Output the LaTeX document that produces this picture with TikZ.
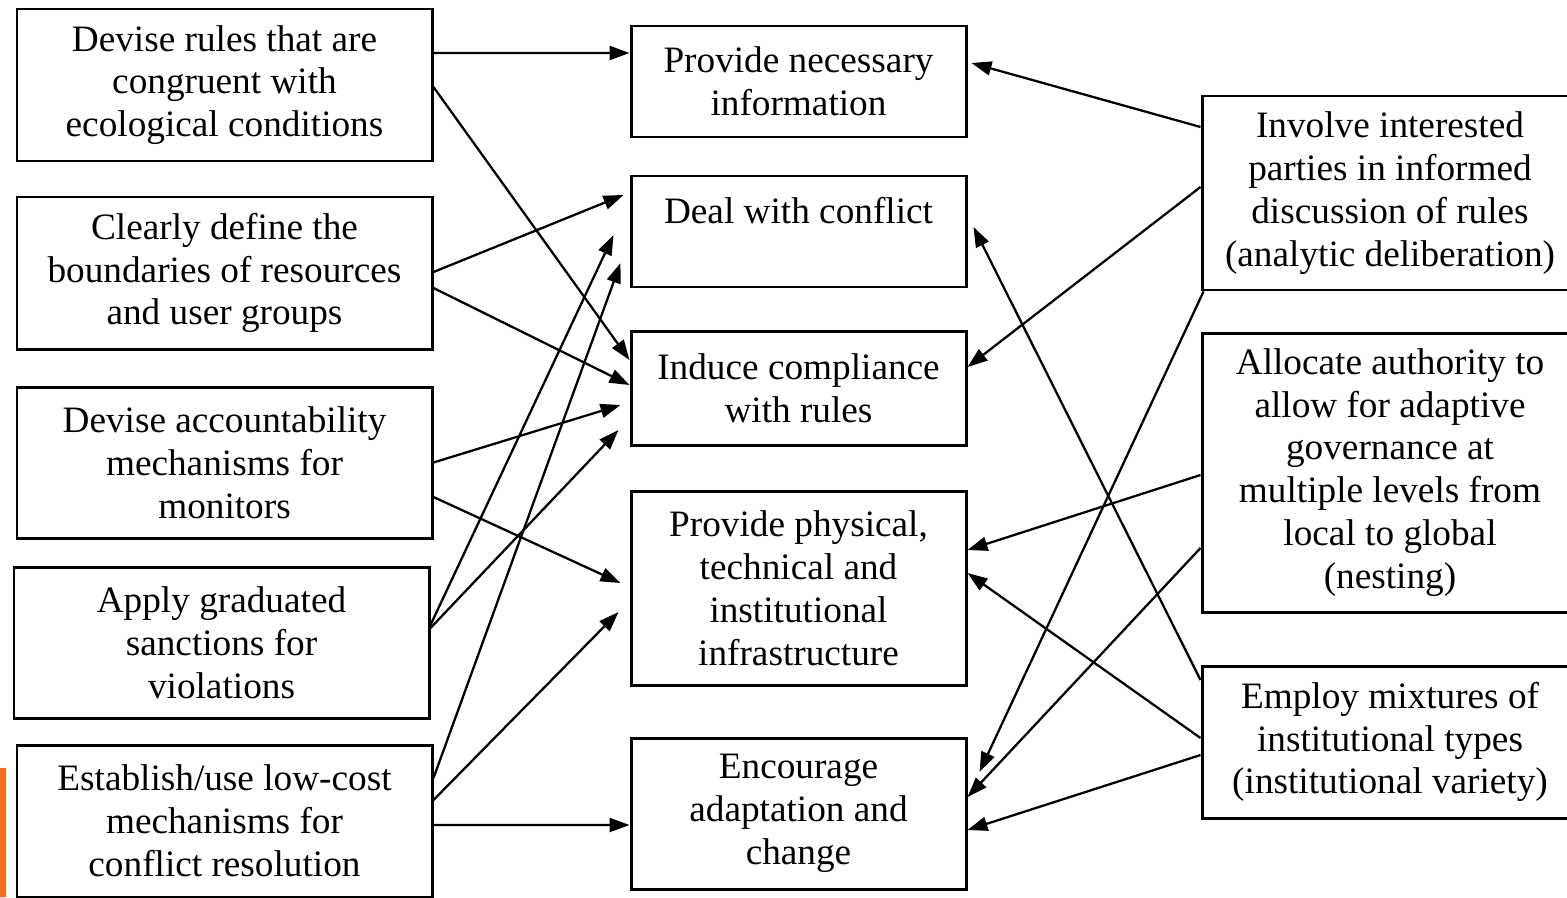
\documentclass[tikz,border=0pt]{standalone}
\usepackage{fontspec}
\setmainfont{Liberation Serif}
\usetikzlibrary{arrows.meta}
\definecolor{barorange}{RGB}{244,110,32}
\begin{document}
\begin{tikzpicture}[x=0.1mm,y=-0.1mm,
    box/.style={draw,line width=0.85pt,inner sep=0pt,align=center,
      font=\fontsize{10.6}{12.2}\selectfont},
    link/.style={line width=0.65pt,-{Triangle[length=2mm,width=1.4mm]}}]
    \useasboundingbox (0,0) rectangle (1567,897);
    \fill[barorange] (0,768) rectangle (6,897);

    % left column
    \node[box,minimum width=41.5mm,minimum height=15.2mm] (rules) at (224.5,85)
      {Devise rules that are\\congruent with\\ecological conditions};
    \node[box,minimum width=41.5mm,minimum height=15.2mm] (bounds) at (224.5,273)
      {Clearly define the\\boundaries of resources\\and user groups};
    \node[box,minimum width=41.5mm,minimum height=15.1mm] (account) at (224.5,462.5)
      {Devise accountability\\mechanisms for\\monitors};
    \node[box,minimum width=41.5mm,minimum height=15.1mm] (sanction) at (221.5,642.5)
      {Apply graduated\\sanctions for\\violations};
    \node[box,minimum width=41.5mm,minimum height=15.2mm] (lowcost) at (224.5,821)
      {Establish/use low-cost\\mechanisms for\\conflict resolution};

    % middle column
    \node[box,minimum width=33.5mm,minimum height=11.1mm] (info) at (798.5,81.5)
      {Provide necessary\\information};
    \node[box,minimum width=33.5mm,minimum height=11.1mm] (conflict) at (798.5,231.5)
      {Deal with conflict\\\mbox{}};
    \node[box,minimum width=33.5mm,minimum height=11.4mm] (comply) at (798.5,388)
      {Induce compliance\\with rules};
    \node[box,minimum width=33.5mm,minimum height=19.4mm] (infra) at (798.5,588)
      {Provide physical,\\technical and\\institutional\\infrastructure};
    \node[box,minimum width=33.5mm,minimum height=15.1mm] (adapt) at (798.5,813.5)
      {Encourage\\adaptation and\\change};

    % right column
    \node[box,minimum width=37.6mm,minimum height=19.4mm] (involve) at (1390,193)
      {Involve interested\\parties in informed\\discussion of rules\\(analytic deliberation)};
    \node[box,minimum width=37.6mm,minimum height=27.9mm] (nesting) at (1390,472.5)
      {Allocate authority to\\allow for adaptive\\governance at\\multiple levels from\\local to global\\(nesting)};
    \node[box,minimum width=37.6mm,minimum height=15.2mm] (variety) at (1390,742)
      {Employ mixtures of\\institutional types\\(institutional variety)};

    % links from the left
    \draw[link] ([yshift=3.2mm]rules.east) -- ([yshift=2.85mm]info.west);
    \draw[link] ([yshift=-0.2mm]rules.east) -- ([yshift=2.8mm]comply.west);
    \draw[link] ([yshift=0.1mm]bounds.east) -- ([xshift=-0.6mm,yshift=3.65mm]conflict.west);
    \draw[link] ([yshift=-1.5mm]bounds.east) -- ([yshift=0.3mm]comply.west);
    \draw[link] (account.east) -- ([xshift=-0.9mm,yshift=-1.7mm]comply.west);
    \draw[link] ([yshift=-3.45mm]account.east) -- ([xshift=-0.9mm,yshift=0.5mm]infra.west);
    \draw[link] ([yshift=1.75mm]sanction.east) -- ([xshift=-1.6mm,yshift=-0.35mm]conflict.west);
    \draw[link] ([yshift=1.45mm]sanction.east) -- ([xshift=-1.1mm,yshift=-4.2mm]comply.west);
    \draw[link] ([yshift=4.3mm]lowcost.east) -- ([xshift=-0.9mm,yshift=-3.15mm]conflict.west);
    \draw[link] ([yshift=2.1mm]lowcost.east) -- ([xshift=-1.1mm,yshift=-2.4mm]infra.west);
    \draw[link] ([yshift=-0.4mm]lowcost.east) -- ([yshift=-1.15mm]adapt.west);

    % links from the right
    \draw[link] ([yshift=6.6mm]involve.west) -- ([xshift=0.4mm,yshift=1.85mm]info.east);
    \draw[link] ([yshift=0.6mm]involve.west) -- ([yshift=2.1mm]comply.east);
    \draw[link] ([xshift=0.3mm]involve.south west) -- ([xshift=1.2mm,yshift=4.15mm]adapt.east);
    \draw[link] ([yshift=-0.25mm]nesting.west) -- ([yshift=3.8mm]infra.east);
    \draw[link] ([yshift=-7.55mm]nesting.west) -- ([yshift=1.65mm]adapt.east);
    \draw[link] ([yshift=6.2mm]variety.west) -- ([xshift=0.6mm,yshift=0.45mm]conflict.east);
    \draw[link] ([yshift=0.4mm]variety.west) -- ([yshift=1.5mm]infra.east);
    \draw[link] ([yshift=-1.3mm]variety.west) -- ([yshift=-1.65mm]adapt.east);
\end{tikzpicture}
\end{document}
